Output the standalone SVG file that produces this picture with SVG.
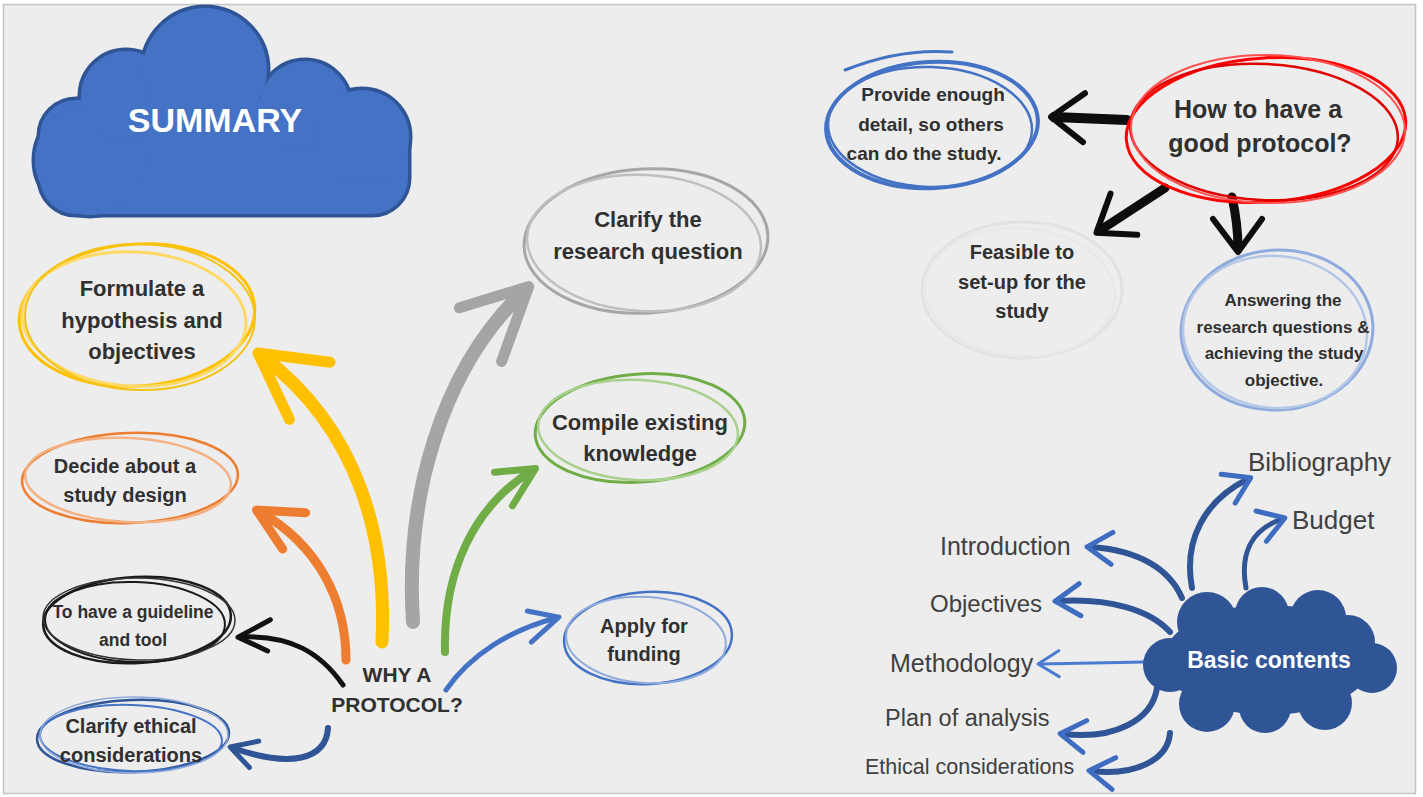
<svg xmlns="http://www.w3.org/2000/svg" xmlns:xlink="http://www.w3.org/1999/xlink" width="1423" height="797" viewBox="0 0 1423 797">
<style>
.t{font-family:"Liberation Sans",Arial,sans-serif;font-weight:bold;fill:#303030;text-anchor:middle}
.w{fill:#ffffff}
.l{font-family:"Liberation Sans",Arial,sans-serif;fill:#404040}
.ov{fill:none}
.sh{fill:none;stroke-linecap:round;stroke-linejoin:round}
.hd{fill:none;stroke-linecap:round;stroke-linejoin:round}
</style>
<defs>
<marker id="mY" markerUnits="userSpaceOnUse" orient="auto" overflow="visible" markerWidth="1" markerHeight="1"><path class="hd" d="M -60 -34 L 5 0 L -58 36" stroke="#ffc000" stroke-width="11"/></marker>
<marker id="mO" markerUnits="userSpaceOnUse" orient="auto" overflow="visible" markerWidth="1" markerHeight="1"><path class="hd" d="M -38 -21 L 4 0 L -40 22" stroke="#ed7d31" stroke-width="9"/></marker>
<marker id="mG" markerUnits="userSpaceOnUse" orient="auto" overflow="visible" markerWidth="1" markerHeight="1"><path class="hd" d="M -60 -32 L 5 0 L -66 36" stroke="#a5a5a5" stroke-width="11"/></marker>
<marker id="mGr" markerUnits="userSpaceOnUse" orient="auto" overflow="visible" markerWidth="1" markerHeight="1"><path class="hd" d="M -34 -18 L 3 0 L -36 20" stroke="#70ad47" stroke-width="7"/></marker>
<marker id="mB" markerUnits="userSpaceOnUse" orient="auto" overflow="visible" markerWidth="1" markerHeight="1"><path class="hd" d="M -26 -14 L 3 0 L -30 17" stroke="#4472c4" stroke-width="5"/></marker>
<marker id="mK" markerUnits="userSpaceOnUse" orient="auto" overflow="visible" markerWidth="1" markerHeight="1"><path class="hd" d="M -26 -15 L 3 0 L -30 16" stroke="#111111" stroke-width="5"/></marker>
<marker id="mE" markerUnits="userSpaceOnUse" orient="auto" overflow="visible" markerWidth="1" markerHeight="1"><path class="hd" d="M -22 -13 L 3 0 L -22 15" stroke="#2f5597" stroke-width="5"/></marker>
<marker id="mKb" markerUnits="userSpaceOnUse" orient="auto" overflow="visible" markerWidth="1" markerHeight="1"><path class="hd" d="M -30 -24 L 3 0 L -30 25" stroke="#0d0d0d" stroke-width="6"/></marker>
<marker id="mD" markerUnits="userSpaceOnUse" orient="auto" overflow="visible" markerWidth="1" markerHeight="1"><path class="hd" d="M -22 -16 L 3 0 L -22 16" stroke="#3d6cc0" stroke-width="5"/></marker>
<marker id="mM" markerUnits="userSpaceOnUse" orient="auto" overflow="visible" markerWidth="1" markerHeight="1"><path class="hd" d="M -19 -13 L 2 0 L -19 13" stroke="#4a7bd0" stroke-width="3"/></marker>
<g id="sumShape">
<rect x="40" y="100" width="368" height="114" rx="36"/>
<circle cx="90" cy="160" r="55"/>
<circle cx="126" cy="96" r="45"/>
<circle cx="205" cy="70" r="62"/>
<circle cx="305" cy="106" r="45"/>
<circle cx="362" cy="137" r="47"/>
</g>
</defs>

<rect x="0" y="0" width="1423" height="797" fill="#ffffff"/>
<rect x="3.5" y="4.5" width="1412" height="789" fill="#ededed" stroke="#c4c4c4" stroke-width="1.5"/>

<g id="connectors">
<path class="sh" d="M 382 642 C 387 540 360 430 262 356" stroke="#ffc000" stroke-width="13" marker-end="url(#mY)"/>
<path class="sh" d="M 346 660 C 346 600 318 545 260 512" stroke="#ed7d31" stroke-width="9" marker-end="url(#mO)"/>
<path class="sh" d="M 343 685 C 320 652 290 635 241 637" stroke="#111111" stroke-width="5" marker-end="url(#mK)"/>
<path class="sh" d="M 328 728 C 326 760 290 768 233 748" stroke="#2f5597" stroke-width="6" marker-end="url(#mE)"/>
<path class="sh" d="M 413 622 C 405 500 440 370 525 290" stroke="#a5a5a5" stroke-width="14" marker-end="url(#mG)"/>
<path class="sh" d="M 445 652 C 443 570 475 505 533 470" stroke="#70ad47" stroke-width="8" marker-end="url(#mGr)"/>
<path class="sh" d="M 446 690 C 470 655 510 630 556 618" stroke="#4472c4" stroke-width="5" marker-end="url(#mB)"/>
<path class="sh" d="M 1127 120 L 1054 117" stroke="#0d0d0d" stroke-width="10" marker-end="url(#mKb)"/>
<path class="sh" d="M 1165 188 L 1099 231" stroke="#0d0d0d" stroke-width="9" marker-end="url(#mKb)"/>
<path class="sh" d="M 1232 197 C 1236 215 1238 230 1238 249" stroke="#0d0d0d" stroke-width="9" marker-end="url(#mKb)"/>
<path class="sh" d="M 1192 588 C 1183 540 1205 500 1248 479" stroke="#2f5597" stroke-width="6" marker-end="url(#mD)"/>
<path class="sh" d="M 1246 588 C 1240 555 1250 530 1282 519" stroke="#2f5597" stroke-width="5" marker-end="url(#mD)"/>
<path class="sh" d="M 1182 598 C 1170 570 1140 550 1090 547" stroke="#2f5597" stroke-width="6" marker-end="url(#mD)"/>
<path class="sh" d="M 1170 632 C 1150 610 1110 598 1058 601" stroke="#2f5597" stroke-width="6" marker-end="url(#mD)"/>
<path class="sh" d="M 1145 662 L 1040 664" stroke="#4a7bd0" stroke-width="3" marker-end="url(#mM)"/>
<path class="sh" d="M 1157 688 C 1152 720 1115 740 1063 734" stroke="#2f5597" stroke-width="6" marker-end="url(#mD)"/>
<path class="sh" d="M 1170 733 C 1168 760 1135 776 1092 771" stroke="#2f5597" stroke-width="6" marker-end="url(#mD)"/>
</g>

<g id="summary">
<use href="#sumShape" fill="none" stroke="#2f5597" stroke-width="7"/>
<use href="#sumShape" fill="#4472c4" stroke="none"/>
<text class="t w" x="215" y="132" font-size="34">SUMMARY</text>
</g>

<g id="why-protocol">
<text class="t" x="397" y="682" font-size="21">WHY A</text>
<text class="t" x="397" y="712" font-size="21">PROTOCOL?</text>
</g>

<g id="formulate">
<ellipse class="ov" cx="137" cy="315" rx="118" ry="71" transform="rotate(-4 137 315)" stroke="#ffc000" stroke-width="3"/>
<ellipse class="ov" cx="134" cy="319" rx="112" ry="67" transform="rotate(3 134 319)" stroke="#ffd966" stroke-width="3"/>
<ellipse class="ov" cx="140" cy="317" rx="115" ry="73" transform="rotate(1 140 317)" stroke="#f2c315" stroke-width="2"/>
<text class="t" x="142" y="296" font-size="22">Formulate a</text>
<text class="t" x="142" y="328" font-size="22">hypothesis and</text>
<text class="t" x="142" y="359" font-size="22">objectives</text>
</g>

<g id="decide">
<ellipse class="ov" cx="130" cy="478" rx="108" ry="45" transform="rotate(-2 130 478)" stroke="#ed7d31" stroke-width="2.5"/>
<ellipse class="ov" cx="128" cy="480" rx="103" ry="42" transform="rotate(3 128 480)" stroke="#f4b183" stroke-width="2.5"/>
<text class="t" x="125" y="473" font-size="20">Decide about a</text>
<text class="t" x="125" y="502" font-size="20">study design</text>
</g>

<g id="guideline">
<ellipse class="ov" cx="137" cy="620" rx="94" ry="43" transform="rotate(-3 137 620)" stroke="#1a1a1a" stroke-width="2.5"/>
<ellipse class="ov" cx="135" cy="622" rx="90" ry="40" transform="rotate(2 135 622)" stroke="#1a1a1a" stroke-width="2"/>
<ellipse class="ov" cx="139" cy="619" rx="96" ry="41" transform="rotate(1 139 619)" stroke="#333333" stroke-width="1.5"/>
<text class="t" x="133" y="618" font-size="17.5">To have a guideline</text>
<text class="t" x="133" y="646" font-size="17.5">and tool</text>
</g>

<g id="ethical">
<ellipse class="ov" cx="133" cy="736" rx="96" ry="36" transform="rotate(-2 133 736)" stroke="#2f5597" stroke-width="2.5"/>
<ellipse class="ov" cx="131" cy="738" rx="91" ry="33" transform="rotate(2 131 738)" stroke="#4472c4" stroke-width="2"/>
<ellipse class="ov" cx="134" cy="735" rx="94" ry="38" stroke="#8faadc" stroke-width="1.5"/>
<text class="t" x="131" y="733" font-size="20">Clarify ethical</text>
<text class="t" x="131" y="762" font-size="20">considerations</text>
</g>

<g id="clarify-question">
<ellipse class="ov" cx="646" cy="241" rx="122" ry="72" transform="rotate(-3 646 241)" stroke="#a6a6a6" stroke-width="3"/>
<ellipse class="ov" cx="644" cy="243" rx="117" ry="68" transform="rotate(3 644 243)" stroke="#bfbfbf" stroke-width="2.5"/>
<text class="t" x="648" y="227" font-size="22">Clarify the</text>
<text class="t" x="648" y="259" font-size="22">research question</text>
</g>

<g id="compile">
<ellipse class="ov" cx="640" cy="428" rx="105" ry="54" transform="rotate(-4 640 428)" stroke="#70ad47" stroke-width="3"/>
<ellipse class="ov" cx="638" cy="430" rx="100" ry="50" transform="rotate(3 638 430)" stroke="#a9d18e" stroke-width="2.5"/>
<text class="t" x="640" y="430" font-size="22">Compile existing</text>
<text class="t" x="640" y="461" font-size="22">knowledge</text>
</g>

<g id="funding">
<ellipse class="ov" cx="648" cy="638" rx="84" ry="46" transform="rotate(-3 648 638)" stroke="#4472c4" stroke-width="2.5"/>
<ellipse class="ov" cx="646" cy="640" rx="80" ry="43" transform="rotate(4 646 640)" stroke="#8faadc" stroke-width="2"/>
<text class="t" x="644" y="633" font-size="20">Apply for</text>
<text class="t" x="644" y="661" font-size="20">funding</text>
</g>

<g id="good-protocol">
<ellipse class="ov" cx="1266" cy="130" rx="140" ry="72" transform="rotate(-4 1266 130)" stroke="#ff0000" stroke-width="3"/>
<ellipse class="ov" cx="1264" cy="132" rx="134" ry="68" transform="rotate(3 1264 132)" stroke="#e00000" stroke-width="2.5"/>
<ellipse class="ov" cx="1268" cy="129" rx="137" ry="74" transform="rotate(1 1268 129)" stroke="#ff5050" stroke-width="2"/>
<text class="t" x="1258" y="118" font-size="25">How to have a</text>
<text class="t" x="1260" y="152" font-size="25">good protocol?</text>
</g>

<g id="provide-detail">
<ellipse class="ov" cx="932" cy="125" rx="106" ry="63" transform="rotate(-3 932 125)" stroke="#4472c4" stroke-width="4"/>
<ellipse class="ov" cx="930" cy="127" rx="102" ry="60" transform="rotate(2 930 127)" stroke="#4472c4" stroke-width="2.5"/>
<path class="sh" d="M 845 70 Q 900 48 952 52" stroke="#4472c4" stroke-width="3"/>
<text class="t" x="933" y="101" font-size="19">Provide enough</text>
<text class="t" x="931" y="131" font-size="19">detail, so others</text>
<text class="t" x="924" y="160" font-size="19">can do the study.</text>
</g>

<g id="feasible">
<ellipse class="ov" cx="1022" cy="290" rx="100" ry="68" stroke="#e2e2e2" stroke-width="3"/>
<ellipse class="ov" cx="1020" cy="292" rx="95" ry="64" transform="rotate(4 1020 292)" stroke="#e8e8e8" stroke-width="2.5"/>
<text class="t" x="1022" y="259" font-size="20">Feasible to</text>
<text class="t" x="1022" y="289" font-size="20">set-up for the</text>
<text class="t" x="1022" y="318" font-size="20">study</text>
</g>

<g id="answering">
<ellipse class="ov" cx="1277" cy="330" rx="96" ry="80" transform="rotate(-4 1277 330)" stroke="#8faadc" stroke-width="3"/>
<ellipse class="ov" cx="1275" cy="332" rx="92" ry="76" transform="rotate(5 1275 332)" stroke="#b4c7e7" stroke-width="2.5"/>
<text class="t" x="1283" y="306" font-size="17">Answering the</text>
<text class="t" x="1283" y="333" font-size="17">research questions &amp;</text>
<text class="t" x="1284" y="359" font-size="17">achieving the study</text>
<text class="t" x="1284" y="386" font-size="17">objective.</text>
</g>

<g id="basic-contents">
<g fill="#2f5597">
<ellipse cx="1268" cy="660" rx="105" ry="55"/>
<circle cx="1170" cy="665" r="27"/>
<circle cx="1372" cy="668" r="25"/>
<circle cx="1207" cy="622" r="30"/>
<circle cx="1262" cy="614" r="27"/>
<circle cx="1318" cy="618" r="28"/>
<circle cx="1348" cy="642" r="27"/>
<circle cx="1207" cy="704" r="28"/>
<circle cx="1265" cy="707" r="26"/>
<circle cx="1325" cy="703" r="27"/>
</g>
<text class="t w" x="1269" y="668" font-size="23">Basic contents</text>
</g>

<g id="bibliography"><text class="l" x="1248" y="471" font-size="26">Bibliography</text></g>
<g id="budget"><text class="l" x="1292" y="529" font-size="26">Budget</text></g>
<g id="introduction"><text class="l" x="940" y="555" font-size="25">Introduction</text></g>
<g id="objectives"><text class="l" x="930" y="612" font-size="24">Objectives</text></g>
<g id="methodology"><text class="l" x="890" y="672" font-size="25">Methodology</text></g>
<g id="plan-analysis"><text class="l" x="885" y="726" font-size="23.5">Plan of analysis</text></g>
<g id="ethical-considerations"><text class="l" x="865" y="774" font-size="21.5">Ethical considerations</text></g>
</svg>
